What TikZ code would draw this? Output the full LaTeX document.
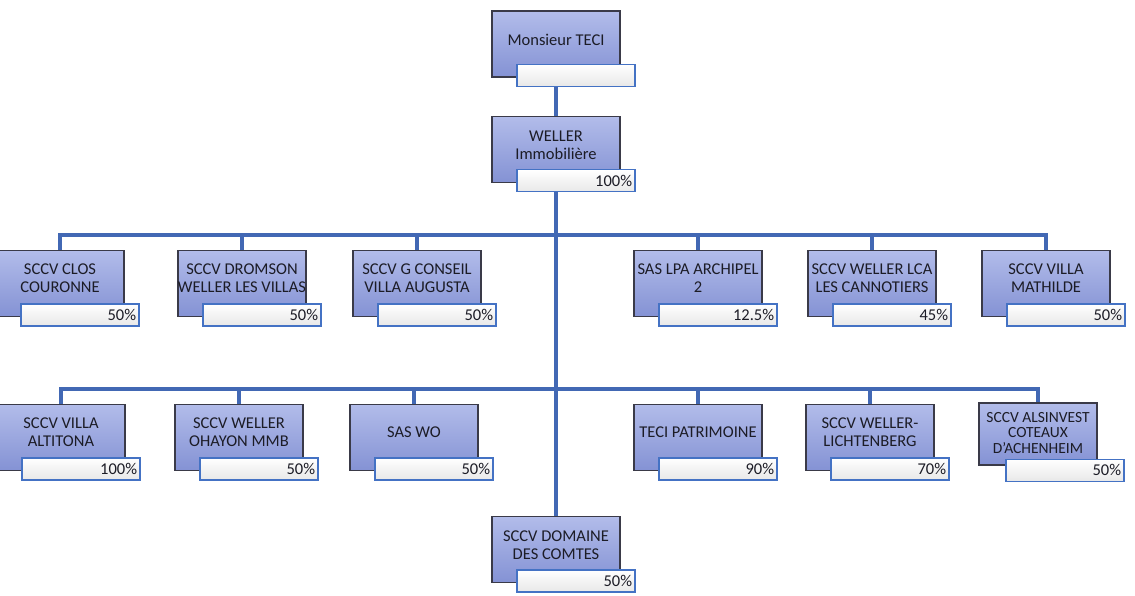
\documentclass[tikz,border=0pt]{standalone}
\usepackage{fontspec}
\setmainfont{Carlito}
\usetikzlibrary{backgrounds}
\definecolor{boxtop}{RGB}{178,188,234}
\definecolor{boxbot}{RGB}{132,146,212}
\definecolor{boxline}{RGB}{58,58,72}
\definecolor{pctline}{RGB}{68,114,196}
\definecolor{linkblue}{RGB}{66,104,180}
\definecolor{inkgray}{RGB}{28,28,38}
\tikzset{orgchart/.style={x=1pt,y=-1pt,font=\fontsize{16.5}{18}\selectfont,text=inkgray}}
\tikzset{mainbox/.style={draw=boxline,line width=1.2pt,top color=boxtop,bottom color=boxbot,
           minimum width=128pt,minimum height=66pt,inner sep=0pt},
         boxtext/.style={align=center,inner sep=0pt},
         pctbox/.style={draw=pctline,line width=1.4pt,top color=white,bottom color=black!9,
           anchor=north west,minimum width=118pt,minimum height=22pt,text width=112pt,
           align=right,inner xsep=3pt,inner ysep=0pt},
         link/.style={linkblue,line width=4pt}}

\begin{document}
\begin{tikzpicture}[orgchart]
    \useasboundingbox (0,0) rectangle (1135,596);
    \def\ya{283.5}\def\yb{437.5}
    % top of the chart
    \foreach \n/\y/\t/\p in {teci/44/{Monsieur TECI}/{},
                             weller/149.5/{WELLER\\Immobilière}/100\%,
                             domaine/549.5/{SCCV DOMAINE\\DES COMTES}/50\%} {
      \node[mainbox] (\n) at (556,\y) {};
      \node[boxtext] (\n-t) at ([yshift=4pt]\n.center) {\t};
      \node[pctbox] (\n-p) at ([xshift=25pt,yshift=14pt]\n.south west) {\p};
    }
    % first row
    \foreach \n/\x/\t/\p in {r1a/60/{SCCV CLOS\\COURONNE}/50\%,
                             r1b/242/{SCCV DROMSON\\WELLER LES VILLAS}/50\%,
                             r1c/417/{SCCV G CONSEIL\\VILLA AUGUSTA}/50\%,
                             r1d/698/{SAS LPA ARCHIPEL\\2}/12.5\%,
                             r1e/872/{SCCV WELLER LCA\\LES CANNOTIERS}/45\%,
                             r1f/1046/{SCCV VILLA\\MATHILDE}/50\%} {
      \node[mainbox] (\n) at (\x,\ya) {};
      \node[boxtext] (\n-t) at ([yshift=5pt]\n.center) {\t};
      \node[pctbox] (\n-p) at ([xshift=25pt,yshift=14pt]\n.south west) {\p};
    }
    % second row
    \foreach \n/\x/\t/\p in {r2a/61/{SCCV VILLA\\ALTITONA}/100\%,
                             r2b/239/{SCCV WELLER\\OHAYON MMB}/50\%,
                             r2c/414/{SAS WO}/50\%,
                             r2d/698/{TECI PATRIMOINE}/90\%,
                             r2e/870/{SCCV WELLER-\\LICHTENBERG}/70\%} {
      \node[mainbox] (\n) at (\x,\yb) {};
      \node[boxtext] (\n-t) at ([yshift=5pt]\n.center) {\t};
      \node[pctbox] (\n-p) at ([xshift=25pt,yshift=14pt]\n.south west) {\p};
    }
    \node[mainbox,minimum width=118pt,minimum height=62pt] (r2f) at (1038,434) {};
    \node[boxtext,font=\fontsize{15.5}{15.8}\selectfont] (r2f-t) at ([yshift=1pt]r2f.center)
      {SCCV ALSINVEST\\COTEAUX\\D'ACHENHEIM};
    \node[pctbox] (r2f-p) at ([xshift=27pt,yshift=7pt]r2f.south west) {50\%};
    % connectors
    \coordinate (bus1) at (556,235);
    \coordinate (bus2) at (556,389);
    \begin{scope}[on background layer]
      \draw[link] (teci.south) -- (domaine.north);
      \draw[link] (r1a.north) |- (r1f.north |- bus1) -- (r1f.north);
      \draw[link] (r2a.north) |- (r2f.north |- bus2) -- (r2f.north);
      \foreach \n in {r1b,r1c,r1d,r1e}
        \draw[link] (\n.north) -- (\n.north |- bus1);
      \foreach \n in {r2b,r2c,r2d,r2e}
        \draw[link] (\n.north) -- (\n.north |- bus2);
    \end{scope}
  \end{tikzpicture}
\end{document}
